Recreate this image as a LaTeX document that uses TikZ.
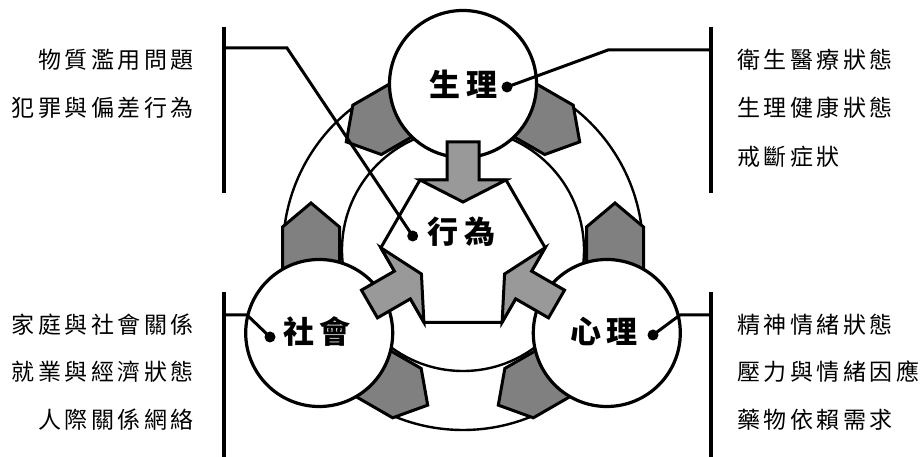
\documentclass[tikz,border=0pt]{standalone}
\usepackage{fontspec}
\newfontfamily\cjk{Noto Sans CJK TC}
\makeatletter
\def\cjkspaced#1#2{\begingroup\def\cjksp@k{#1}\cjksp@a#2\relax\endgroup}
\def\cjksp@a#1{#1\cjksp@b}
\def\cjksp@b#1{\ifx#1\relax\else\kern\cjksp@k#1\expandafter\cjksp@b\fi}
\makeatother
\begin{document}
\begin{tikzpicture}[x=1pt,y=1pt,
  ring/.style={line width=2.4pt},
  disc/.style={circle,draw,line width=3.2pt,fill=white,minimum size=147pt,inner sep=0pt},
  penta/.style={fill=black!50,draw,line width=3pt,line join=miter},
  carrow/.style={fill=black!40,draw,line width=3pt,line join=miter},
  hexa/.style={fill=white,draw,line width=3pt,line join=miter},
  dotn/.style={circle,fill=black,minimum size=11pt,inner sep=0pt},
  conn/.style={line width=3pt},
  bar/.style={line width=4pt},
  lab/.style={font=\cjk\bfseries\fontsize{31pt}{33pt}\selectfont,inner sep=0pt},
  side/.style={font=\cjk\fontsize{23pt}{25pt}\selectfont,inner sep=0pt}]
\useasboundingbox (0,0) rectangle (924,457);
\coordinate (O) at (463,207);
% ring
\draw[ring] (O) circle[radius=180];
\draw[ring] (O) circle[radius=121];
% ring arrows (pentagons)
\foreach \a in {0,120,240}{
  \draw[penta,shift={(O)},rotate=\a] (123.5,-35) -- (180.5,-35) -- (180.5,23) -- (152,47) -- (123.5,23) -- cycle;
  \draw[penta,shift={(O)},rotate=\a] (-123.5,-35) -- (-180.5,-35) -- (-180.5,23) -- (-152,47) -- (-123.5,23) -- cycle;
}
% central hexagon
\draw[hexa,shift={(O)}] (1.6:82.15) -- (58.4:82.15) -- (121.6:82.15) -- (178.4:82.15) -- (241.6:82.15) -- (298.4:82.15) -- cycle;
% circles
\node[disc] (bio) at (463,373) {};
\node[disc] (soc) at (319.2,124) {};
\node[disc] (psy) at (606.8,124) {};
% central arrows
\foreach \a in {0,120,240}{
  \draw[carrow,shift={(O)},rotate=\a] (-16,108) -- (16,108) -- (16,70) -- (43,70) -- (0,48) -- (-43,70) -- (-16,70) -- cycle;
}
% labels
\node[lab] (tbio) at (463.5,373) {\cjkspaced{6pt}{生理}};
\node[lab] (tbeh) at (461.7,225) {\cjkspaced{6pt}{行為}};
\node[lab] (tsoc) at (316.7,125) {\cjkspaced{5pt}{社會}};
\node[lab] (tpsy) at (604,126) {\cjkspaced{6pt}{心理}};
% dots
\node[dotn] (dbio) at (507,370) {};
\node[dotn] (dbeh) at (412.7,221) {};
\node[dotn] (dsoc) at (270,120) {};
\node[dotn] (dpsy) at (653,122) {};
% brackets
\coordinate (lt1) at (224,430); \coordinate (lt2) at (224,264);
\coordinate (rt1) at (710.5,430); \coordinate (rt2) at (710.5,264);
\coordinate (lb1) at (224,165); \coordinate (lb2) at (224,0);
\coordinate (rb1) at (710.5,165); \coordinate (rb2) at (710.5,0);
\draw[bar] (lt1) -- (lt2);
\draw[bar] (rt1) -- (rt2);
\draw[bar] (lb1) -- (lb2);
\draw[bar] (rb1) -- (rb2);
\coordinate (lth) at (224,409); \coordinate (ltb) at (287,409);
\coordinate (rth) at (710.5,407); \coordinate (rtb) at (608,407);
\coordinate (lbh) at (224,142); \coordinate (lbb) at (247,142);
\coordinate (rbh) at (710.5,142); \coordinate (rbb) at (680,142);
\draw[conn] (lth) -- (ltb) -- (dbeh.center);
\draw[conn] (rth) -- (rtb) -- (dbio.center);
\draw[conn] (lbh) -- (lbb) -- (dsoc.center);
\draw[conn] (rbh) -- (rbb) -- (dpsy.center);
% side texts
\node[side,anchor=east] (s1) at (194,397) {\cjkspaced{3.5pt}{物質濫用問題}};
\node[side,anchor=east] (s2) at (194,349) {\cjkspaced{3.5pt}{犯罪與偏差行為}};
\node[side,anchor=west] (s3) at (737,397) {\cjkspaced{3.5pt}{衛生醫療狀態}};
\node[side,anchor=west] (s4) at (737,349) {\cjkspaced{3.5pt}{生理健康狀態}};
\node[side,anchor=west] (s5) at (737,300) {\cjkspaced{3.5pt}{戒斷症狀}};
\node[side,anchor=east] (s6) at (194,132) {\cjkspaced{3.5pt}{家庭與社會關係}};
\node[side,anchor=east] (s7) at (194,85) {\cjkspaced{3.5pt}{就業與經濟狀態}};
\node[side,anchor=east] (s8) at (194,37) {\cjkspaced{3.5pt}{人際關係網絡}};
\node[side,anchor=west] (s9) at (737,132) {\cjkspaced{3.5pt}{精神情緒狀態}};
\node[side,anchor=west] (s10) at (737,85) {\cjkspaced{3.5pt}{壓力與情緒因應}};
\node[side,anchor=west] (s11) at (737,37) {\cjkspaced{3.5pt}{藥物依賴需求}};
\end{tikzpicture}
\end{document}
